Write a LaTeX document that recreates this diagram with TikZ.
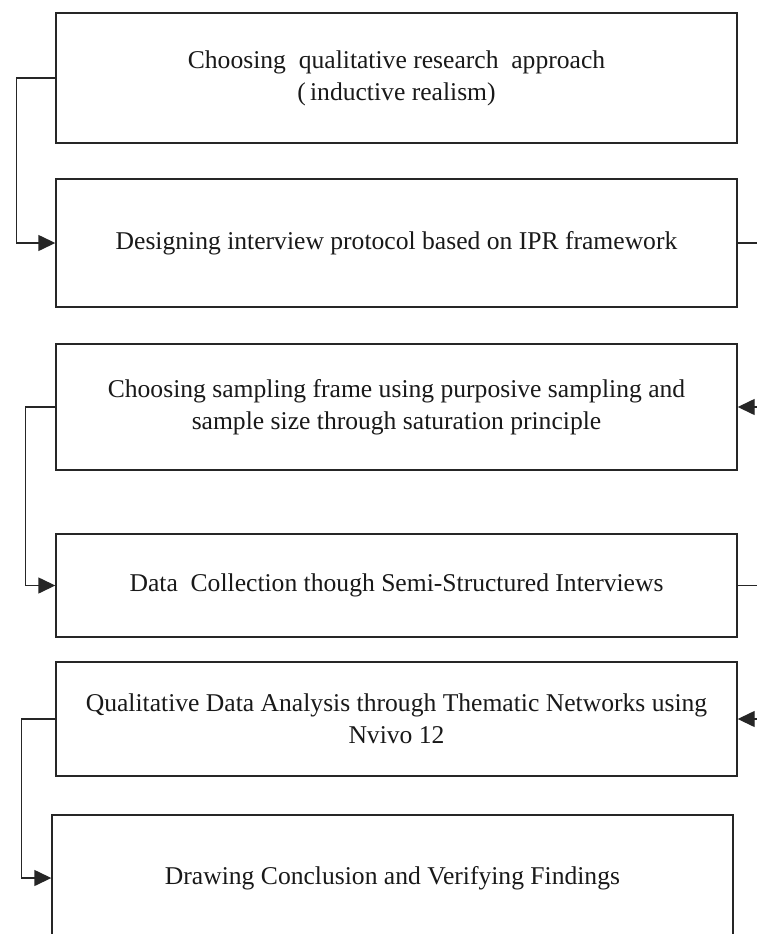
\documentclass[tikz,border=0pt]{standalone}
\usepackage{fontspec}
\setmainfont{Liberation Serif}
\usetikzlibrary{arrows.meta}
\begin{document}
\begin{tikzpicture}[x=1pt,y=-1pt,
  stagebox/.style={draw=black!85, line width=1.4pt, fill=white, minimum width=681pt,
    align=center, inner sep=0pt, text=black!90,
    font=\fontsize{25.6}{32}\selectfont},
  link/.style={draw=black!85, line width=1.4pt},
  linkarrow/.style={link, -{Triangle[length=17pt,width=16pt]}}]
\useasboundingbox (0,0) rectangle (757,934);
\clip (0,0) rectangle (757,934);
\fill[white] (0,0) rectangle (757,934);

% process stages
\node[stagebox, minimum height=130pt] (s1) at (396.5,78)
  {Choosing\ \ qualitative research\ \ approach\\(\,inductive realism)};
\node[stagebox, minimum height=128pt] (s2) at (396.5,243)
  {Designing interview protocol based on IPR framework};
\node[stagebox, minimum height=126pt] (s3) at (396.5,407)
  {Choosing sampling frame using purposive sampling and\\sample size through saturation principle};
\node[stagebox, minimum height=103pt] (s4) at (396.5,585.5)
  {Data\ \ Collection though Semi-Structured Interviews};
\node[stagebox, minimum height=114pt] (s5) at (396.5,719)
  {Qualitative Data Analysis through Thematic Networks using\\Nvivo 12};
\node[stagebox, minimum height=126pt] (s6) at (392.5,878)
  {Drawing Conclusion and Verifying Findings};

% links on the left side
\draw[linkarrow] (s1.west) -- ++(-39,0) |- (s2.west);
\draw[linkarrow] (s3.west) -- ++(-30,0) |- (s4.west);
\draw[linkarrow] (s5.west) -- ++(-34,0) |- (s6.west);

% links on the right side, running past the edge
\coordinate (r1) at (775,0);
\draw[link] (s2.east) -- (s2.east -| r1) |- (s3.east -| r1);
\draw[linkarrow] (s3.east -| r1) -- (s3.east);
\draw[link] (s4.east) -- (s4.east -| r1) |- (s5.east -| r1);
\draw[linkarrow] (s5.east -| r1) -- (s5.east);
\end{tikzpicture}
\end{document}
